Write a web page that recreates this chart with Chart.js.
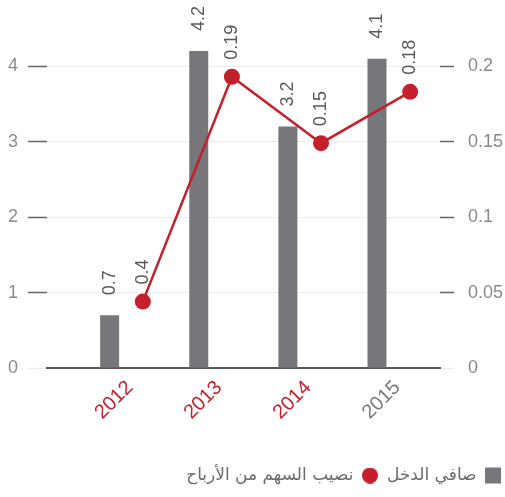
<!DOCTYPE html>
<html>
<head>
<meta charset="utf-8">
<script src="https://cdn.jsdelivr.net/npm/chart.js@4"></script>
<style>
  html, body { margin: 0; padding: 0; background: #fff; }
  #wrap { width: 505px; height: 497px; }
</style>
</head>
<body>
<div id="wrap"><canvas id="chart"></canvas></div>
<script>
const years = ['2012', '2013', '2014', '2015'];
const yearColors = ['#c41f2b', '#c41f2b', '#c41f2b', '#7b7b7e'];
const netIncome = [0.7, 4.2, 3.2, 4.1];
const eps = [0.044, 0.193, 0.149, 0.183];
const epsLabels = ['0.4', '0.19', '0.15', '0.18'];
const leftTicks = [0, 1, 2, 3, 4];
const rightTicks = [0, 0.05, 0.1, 0.15, 0.2];
const seriesNames = ['صافي الدخل', 'نصيب السهم من الأرباح'];

const RED = '#c41f2b';
const GRAY_BAR = '#77777b';
const NUM_FONT = '"Liberation Sans", Arial, sans-serif';

// x layout: category index -> horizontal position, bars sit left and dots right of each year label
const X_RANGE = [-0.93, 3.48];
const BAR_SHIFT = -0.227;
const DOT_SHIFT = 0.145;

// small red disc used as the legend marker of the line series
const dotIcon = document.createElement('canvas');
dotIcon.width = 16;
dotIcon.height = 16;
(() => {
    const c = dotIcon.getContext('2d');
    c.fillStyle = RED;
    c.beginPath();
    c.arc(8, 8, 8, 0, Math.PI * 2);
    c.fill();
})();

function drawUp(ctx, text, x, y) {
    ctx.save();
    ctx.translate(x, y);
    ctx.rotate(-Math.PI / 2);
    ctx.fillText(text, 0, 0);
    ctx.restore();
}

const valueLabels = {
    id: 'valueLabels',
    afterDatasetsDraw(chart) {
        const ctx = chart.ctx;
        ctx.save();
        ctx.font = '18px ' + NUM_FONT;
        ctx.fillStyle = '#5a5a5c';
        ctx.textAlign = 'left';
        ctx.textBaseline = 'middle';
        chart.getDatasetMeta(0).data.forEach((bar, i) => {
            drawUp(ctx, netIncome[i].toFixed(1), bar.x, bar.y - 20);
        });
        chart.getDatasetMeta(1).data.forEach((pt, i) => {
            drawUp(ctx, epsLabels[i], pt.x, pt.y - 17);
        });
        ctx.restore();
    }
};

new Chart(document.getElementById('chart'), {
    type: 'bar',
    data: {
        datasets: [{
            label: seriesNames[0],
            data: netIncome.map((v, i) => ({ x: i, y: v })),
            backgroundColor: GRAY_BAR,
            grouped: false,
            maxBarThickness: 19,
            xAxisID: 'xBar',
            yAxisID: 'y',
            order: 1
        }, {
            type: 'line',
            label: seriesNames[1],
            data: eps.map((v, i) => ({ x: i, y: v })),
            borderColor: RED,
            backgroundColor: RED,
            borderWidth: 2.5,
            pointRadius: 8,
            pointHoverRadius: 8,
            pointBorderWidth: 0,
            tension: 0,
            xAxisID: 'xDot',
            yAxisID: 'y1',
            order: 0
        }]
    },
    options: {
        responsive: true,
        maintainAspectRatio: false,
        animation: false,
        layout: { padding: { top: 36, left: 0, right: -5, bottom: 3 } },
        scales: {
            x: {
                type: 'linear',
                offset: false,
                min: X_RANGE[0],
                max: X_RANGE[1],
                afterBuildTicks: s => { s.ticks = years.map((_, i) => ({ value: i })); },
                afterFit: s => { s.height = s.chart.height - 368 - 3 - s.chart.legend.height; },
                ticks: {
                    minRotation: 45,
                    maxRotation: 45,
                    padding: 8,
                    font: { family: NUM_FONT, size: 20 },
                    color: c => yearColors[c.index],
                    callback: v => years[v]
                },
                grid: { display: true, offset: false, color: 'rgba(0,0,0,0)', drawTicks: false },
                border: { display: true, color: '#5b5b5e', width: 2 }
            },
            xBar: {
                type: 'linear', display: false, offset: false,
                min: X_RANGE[0] - BAR_SHIFT, max: X_RANGE[1] - BAR_SHIFT
            },
            xDot: {
                type: 'linear', display: false, offset: false,
                min: X_RANGE[0] - DOT_SHIFT, max: X_RANGE[1] - DOT_SHIFT
            },
            y: {
                position: 'left',
                min: 0,
                max: 4.4,
                afterBuildTicks: s => { s.ticks = leftTicks.map(v => ({ value: v })); },
                afterFit: s => { s.width = 47; },
                ticks: {
                    padding: 10,
                    font: { family: NUM_FONT, size: 18 },
                    color: '#8a8a8c',
                    callback: v => String(v)
                },
                grid: {
                    color: '#ececec',
                    lineWidth: 1,
                    tickLength: 19,
                    tickWidth: 1.5,
                    tickColor: c => c.tick && c.tick.value === 0 ? '#ececec' : '#66666a'
                },
                border: { display: false }
            },
            y1: {
                position: 'right',
                min: 0,
                max: 0.22,
                afterBuildTicks: s => { s.ticks = rightTicks.map(v => ({ value: v })); },
                afterFit: s => { s.width = 70; },
                ticks: {
                    padding: 14,
                    font: { family: NUM_FONT, size: 18 },
                    color: '#8a8a8c',
                    callback: v => String(v)
                },
                grid: {
                    drawOnChartArea: false,
                    tickLength: 14,
                    tickWidth: 1.5,
                    tickColor: c => c.tick && c.tick.value === 0 ? '#ececec' : '#66666a'
                },
                border: { display: false }
            }
        },
        plugins: {
            tooltip: { enabled: false },
            legend: {
                position: 'bottom',
                align: 'start',
                rtl: true,
                textDirection: 'rtl',
                labels: {
                    usePointStyle: true,
                    boxWidth: 16,
                    boxHeight: 16,
                    padding: 9,
                    color: '#6b6b6d',
                    font: { family: '"DejaVu Sans", sans-serif', size: 17 },
                    sort: (a, b) => a.datasetIndex - b.datasetIndex,
                    generateLabels: chart => {
                        const items = Chart.defaults.plugins.legend.labels.generateLabels(chart);
                        items.forEach(it => {
                            it.pointStyle = it.datasetIndex === 0 ? 'rect' : dotIcon;
                        });
                        return items;
                    }
                }
            }
        }
    },
    plugins: [valueLabels]
});
</script>
</body>
</html>
